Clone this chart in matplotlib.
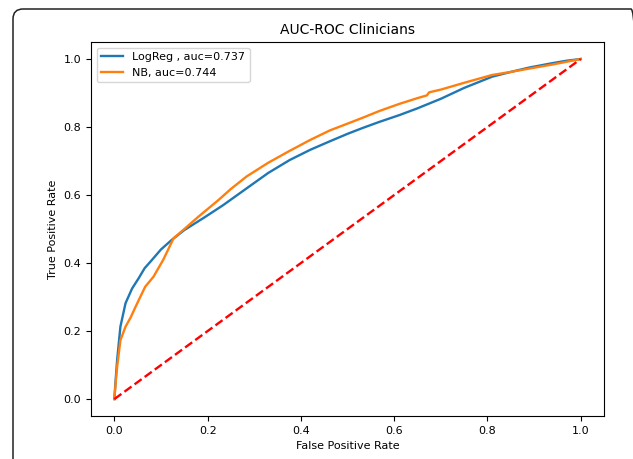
import numpy as np
import matplotlib.pyplot as plt
from matplotlib.patches import FancyBboxPatch
from matplotlib.transforms import IdentityTransform

# ROC points
fpr_lr = [0, 0.003, 0.006, 0.013, 0.024, 0.038, 0.052, 0.065, 0.078, 0.10, 0.123, 0.15, 0.194,
          0.233, 0.284, 0.33, 0.376, 0.42, 0.462, 0.50, 0.532, 0.568, 0.611, 0.65, 0.70,
          0.75, 0.81, 0.85, 0.89, 0.94, 0.97, 1.0]
tpr_lr = [0, 0.06, 0.115, 0.213, 0.282, 0.325, 0.355, 0.385, 0.405, 0.44, 0.468, 0.497, 0.535,
          0.57, 0.62, 0.665, 0.703, 0.733, 0.758, 0.78, 0.797, 0.815, 0.835, 0.855, 0.883,
          0.915, 0.948, 0.962, 0.975, 0.988, 0.995, 1.0]

fpr_nb = [0, 0.003, 0.006, 0.013, 0.024, 0.035, 0.045, 0.066, 0.084, 0.105, 0.127, 0.15,
          0.18, 0.223, 0.25, 0.284, 0.33, 0.376, 0.42, 0.462, 0.50, 0.532, 0.568, 0.611,
          0.65, 0.67, 0.675, 0.70, 0.75, 0.81, 0.85, 0.89, 0.94, 0.97, 1.0]
tpr_nb = [0, 0.05, 0.095, 0.173, 0.213, 0.24, 0.27, 0.33, 0.36, 0.41, 0.473, 0.50,
          0.536, 0.585, 0.618, 0.655, 0.695, 0.73, 0.762, 0.79, 0.81, 0.827, 0.847, 0.868,
          0.885, 0.893, 0.902, 0.91, 0.93, 0.953, 0.962, 0.972, 0.984, 0.992, 1.0]

lbl_lr = 'LogReg , auc=0.737'
lbl_nb = 'NB, auc=0.744'

fig = plt.figure(figsize=(6.33, 4.59), dpi=100)
ax = fig.add_axes([0.1438, 0.0935, 0.8105, 0.815])

ax.plot(fpr_lr, tpr_lr, color='#1f77b4', lw=1.7, label=lbl_lr)
ax.plot(fpr_nb, tpr_nb, color='#ff7f0e', lw=1.7, label=lbl_nb)
ax.plot([0, 1], [0, 1], 'r--', lw=1.7)

ax.set_title('AUC-ROC Clinicians', fontsize=10)
ax.set_xlabel('False Positive Rate', fontsize=8)
ax.set_ylabel('True Positive Rate', fontsize=8)
ax.tick_params(labelsize=8)
ax.set_xticks(np.arange(0, 1.01, 0.2))
ax.set_yticks(np.arange(0, 1.01, 0.2))
ax.legend(loc='upper left', fontsize=8)

# outer rounded frame around the figure
frame = FancyBboxPatch((13, -50), 628, 500, boxstyle='round,pad=0,rounding_size=10',
                       transform=IdentityTransform(), fill=False, ec='#222222', lw=1.1)
fig.patches.append(frame)

fig.savefig('out.png', dpi=100)
